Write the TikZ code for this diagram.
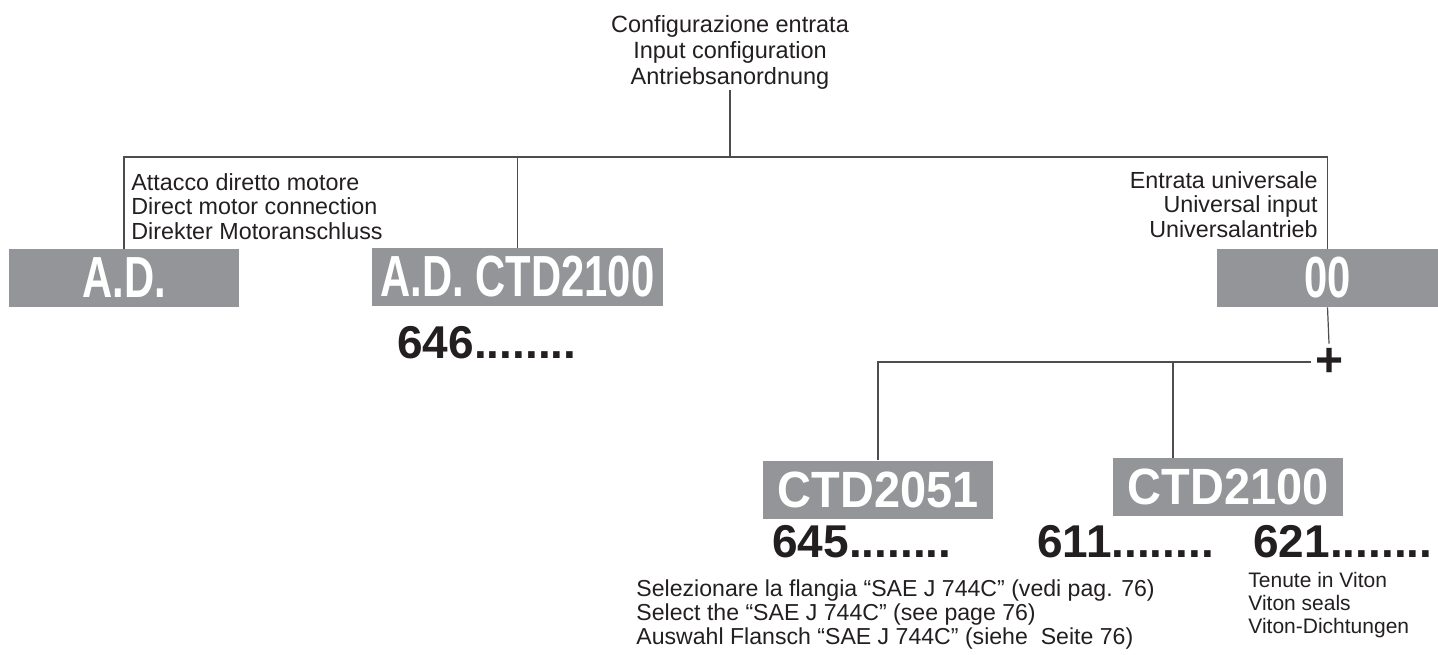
\documentclass[tikz,border=0pt]{standalone}
\usepackage{fontspec}
\setmainfont{Liberation Sans}
\newfontfamily\widecode{Liberation Sans Bold}[FakeStretch=0.72]
\newfontfamily\narrowcode{Liberation Sans Bold}[FakeStretch=0.92]
\newfontfamily\plaincode{Liberation Sans Bold}
\definecolor{boxgray}{RGB}{147,149,152}
\definecolor{ink}{RGB}{35,31,32}

\begin{document}
\begin{tikzpicture}[x=0.5pt,y=-0.5pt]
    \tikzstyle{every node}=[inner sep=0pt,text=ink]
    \tikzstyle{codebox}=[fill=boxgray,text=white,minimum width=115pt,minimum height=29pt]
    \tikzstyle{bigcode}=[codebox,font=\widecode\fontsize{29}{29}\selectfont]
    \tikzstyle{smallcode}=[codebox,font=\narrowcode\fontsize{25.5}{25.5}\selectfont]
    \tikzstyle{number}=[anchor=base west,font=\plaincode\fontsize{23}{23}\selectfont]
    \tikzstyle{note}=[font=\fontsize{11.65}{12.25}\selectfont]
    \tikzstyle{wire}=[draw=ink!80,line width=0.6pt]
    \useasboundingbox (0,0) rectangle (1438,654);
    \node[align=center,anchor=north,font=\fontsize{11.75}{13}\selectfont] (conf) at (730,15) {Configurazione entrata\\Input configuration\\Antriebsanordnung};
    \coordinate (bus) at (730,157);
    \node[bigcode] (ad) at (124,278) {A.D.};
    \node[bigcode,minimum width=145.5pt] (adc) at (517.5,277) {A.D. CTD2100};
    \node[bigcode,minimum width=110.5pt] (uni) at (1327.5,278) {00};
    \node[note,align=left,anchor=north west] (adtext) at (131,173) {Attacco diretto motore\\Direct motor connection\\Direkter Motoranschluss};
    \node[note,align=right,anchor=north east] (unitext) at (1318,171) {Entrata universale\\Universal input\\Universalantrieb};
    \node[number] (n646) at (397,358) {646........};
    \node[font=\plaincode\fontsize{24}{24}\selectfont,inner sep=2pt] (plus) at (1329,362) {+};
    \node[smallcode] (c51) at (878,489.5) {CTD2051};
    \node[smallcode] (c21) at (1228,487) {CTD2100};
    \coordinate (c21top) at (1173,458);
    \node[number] (n645) at (772,557) {645........};
    \node[number] (n611) at (1037,557) {611........};
    \node[number] (n621) at (1253,557) {621........};
    \node[align=left,anchor=north west,font=\fontsize{11.55}{12}\selectfont] (flange) at (636,579) {Selezionare la flangia “SAE J 744C” (vedi pag. 76)\\Select the “SAE J 744C” (see page 76)\\Auswahl Flansch “SAE J 744C” (siehe\ \ Seite 76)};
    \node[align=left,anchor=north west,font=\fontsize{10.5}{11.5}\selectfont] (seals) at (1248,572) {Tenute in Viton\\Viton seals\\Viton-Dichtungen};
    \draw[wire] (conf.south) -- (bus);
    \draw[wire] (ad.north) |- (bus) -| (uni.north);
    \draw[wire] (adc.north) -- (adc.north |- bus);
    \draw[wire] (uni.south) -- (plus.north);
    \draw[wire] (plus.west) -| (c51.north);
    \draw[wire] (c21top) -- (c21top |- plus.west);
\end{tikzpicture}
\end{document}
